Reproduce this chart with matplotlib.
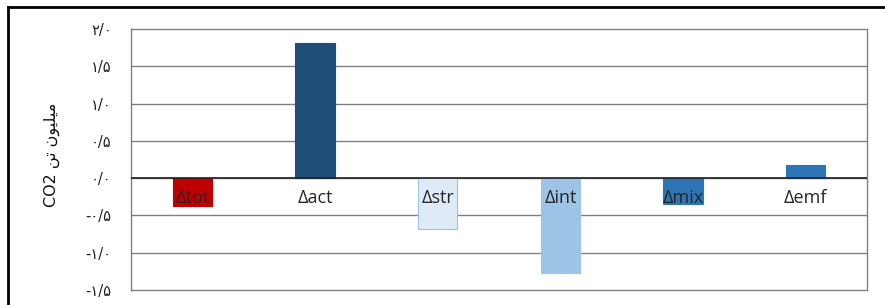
import numpy as np
import matplotlib.pyplot as plt
from matplotlib.lines import Line2D

categories = ["\u0394tot", "\u0394act", "\u0394str", "\u0394int", "\u0394mix", "\u0394emf"]
values = [-0.37, 1.81, -0.68, -1.27, -0.35, 0.18]
face_colors = ["#C00000", "#1F4E79", "#DEEBF7", "#9DC3E6", "#2E75B6", "#2E75B6"]
edge_colors = ["#C00000", "#1F4E79", "#9DC3E6", "#9DC3E6", "#2E75B6", "#2E75B6"]
tick_values = [-1.5, -1.0, -0.5, 0.0, 0.5, 1.0, 1.5, 2.0]
tick_labels = ["-\u06f1/\u06f5", "-\u06f1/\u06f0", "-\u06f0/\u06f5", "\u06f0/\u06f0",
               "\u06f0/\u06f5", "\u06f1/\u06f0", "\u06f1/\u06f5", "\u06f2/\u06f0"]
# "میلیون تن CO2" written in visual order with presentation forms (no shaping in mpl)
y_label = "CO2 \ufee6\ufe97 \ufee5\ufeee\ufef4\ufee0\ufef4\ufee3"

fig = plt.figure(figsize=(8.85, 3.05), dpi=100)
ax = fig.add_axes([131/885, 1 - 290/305, (867 - 131)/885, (290 - 29)/305])

x = np.arange(len(categories))
ax.bar(x, values, width=0.32, color=face_colors, edgecolor=edge_colors, linewidth=0.8, zorder=3)

ax.set_xlim(-0.5, len(categories) - 0.5)
ax.set_ylim(-1.5, 2.0)
ax.set_yticks(tick_values)
ax.set_yticklabels(tick_labels, family=["DejaVu Sans"], fontsize=10.5, color="#222222")
ax.tick_params(axis="y", length=0, pad=14)
ax.set_xticks([])

for v in tick_values[1:-1]:
    ax.axhline(v, color="#808080", linewidth=1.0, zorder=1)
ax.axhline(0, color="#222222", linewidth=1.2, zorder=4)
for s in ax.spines.values():
    s.set_color("#808080")
    s.set_linewidth(1.0)

for i, c in enumerate(categories):
    ax.text(i, -0.27, c, ha="center", va="center", fontsize=13, color="#262626",
            family=["Open Sans", "DejaVu Sans"], zorder=5)

fig.text(52/885, 1 - 155/305, y_label, rotation=90, ha="center", va="center",
         fontsize=11.5, color="#111111", family=["DejaVu Sans"])

# outer frame of the chart object
fig.add_artist(Line2D([8/885, 8/885], [0, 1 - 7/305], color="black", linewidth=2))
fig.add_artist(Line2D([8/885, 1], [1 - 7/305, 1 - 7/305], color="black", linewidth=2))

fig.savefig("out.png", dpi=100)
